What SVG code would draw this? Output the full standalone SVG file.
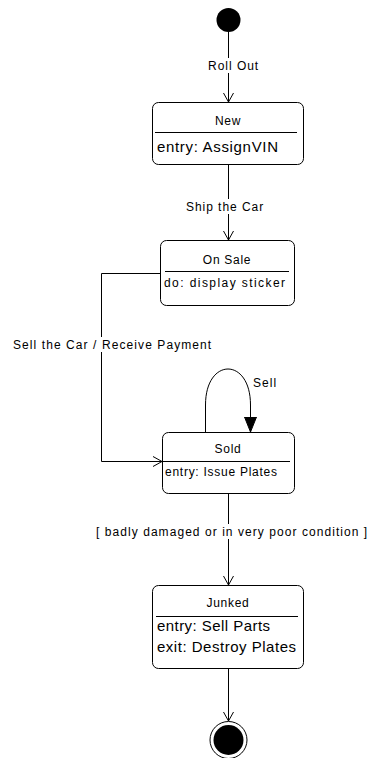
<svg xmlns="http://www.w3.org/2000/svg" width="372" height="758" viewBox="0 0 372 758">
  <style>
    .state { fill: #ffffff; stroke: #000000; stroke-width: 1; }
    .div { stroke: #000000; stroke-width: 1; }
    .edge { fill: none; stroke: #000000; stroke-width: 1; }
    .bg { fill: #ffffff; }
    .lbl { font-family: "Liberation Sans", Arial, sans-serif; font-size: 12px; fill: #000000; letter-spacing: 0.8px; }
    .name { font-family: "Liberation Sans", Arial, sans-serif; font-size: 12px; fill: #000000; text-anchor: middle; letter-spacing: 0.7px; }
    .act { font-family: "Liberation Sans", Arial, sans-serif; font-size: 15px; fill: #000000; }
    .act-s { font-family: "Liberation Sans", Arial, sans-serif; font-size: 12px; fill: #000000; }
  </style>
  <defs>
    <marker id="open" markerWidth="12" markerHeight="12" refX="10" refY="6" orient="auto" markerUnits="userSpaceOnUse">
      <path d="M1,1 L10,6 L1,11" fill="none" stroke="#000" stroke-width="1"/>
    </marker>
    <marker id="filled" markerWidth="16" markerHeight="14" refX="15" refY="7" orient="auto" markerUnits="userSpaceOnUse">
      <path d="M0,1 L15,7 L0,13 Z" fill="#000" stroke="#000" stroke-width="1"/>
    </marker>
  </defs>
  <rect width="372" height="758" fill="#ffffff"/>

  <g id="connectors">
    <line class="edge" x1="228.5" y1="32" x2="228.5" y2="102" marker-end="url(#open)"/>
    <rect class="bg" x="206" y="58" width="55" height="15"/>
    <text class="lbl" x="208" y="70" textLength="51">Roll Out</text>

    <line class="edge" x1="228.5" y1="164" x2="228.5" y2="240" marker-end="url(#open)"/>
    <rect class="bg" x="184" y="199" width="82" height="15"/>
    <text class="lbl" x="186" y="211" textLength="78">Ship the Car</text>

    <polyline class="edge" points="160,273.5 101.5,273.5 101.5,461.5 162,461.5" marker-end="url(#open)"/>
    <rect class="bg" x="11" y="337" width="203" height="15"/>
    <text class="lbl" x="13" y="349" textLength="199">Sell the Car / Receive Payment</text>

    <path class="edge" d="M205.5,432 L205.5,405 C205.5,357 250.5,357 250.5,405 L250.5,432" marker-end="url(#filled)"/>
    <text class="lbl" x="253" y="387" textLength="24">Sell</text>

    <line class="edge" x1="228.5" y1="493" x2="228.5" y2="585" marker-end="url(#open)"/>
    <rect class="bg" x="94" y="524" width="277" height="15"/>
    <text class="lbl" x="96" y="536" textLength="272">[ badly damaged or in very poor condition ]</text>

    <line class="edge" x1="228.5" y1="668" x2="228.5" y2="721" marker-end="url(#open)"/>
  </g>

  <g id="initial">
    <circle cx="228.5" cy="20" r="12" fill="#000000"/>
  </g>

  <g id="state-new">
    <rect class="state" x="152.5" y="102.5" width="151" height="62" rx="6"/>
    <line class="div" x1="155" y1="132.5" x2="297" y2="132.5"/>
    <text class="name" x="228" y="125">New</text>
    <text class="act" x="157" y="152" textLength="121">entry: AssignVIN</text>
  </g>

  <g id="state-onsale">
    <rect class="state" x="160.5" y="240.5" width="134" height="65" rx="6"/>
    <line class="div" x1="165" y1="271.5" x2="289" y2="271.5"/>
    <text class="name" x="227" y="264">On Sale</text>
    <text class="act-s" x="164" y="287" textLength="121">do: display sticker</text>
  </g>

  <g id="state-sold">
    <rect class="state" x="162.5" y="432.5" width="132" height="61" rx="6"/>
    <line class="div" x1="163" y1="461.5" x2="290" y2="461.5"/>
    <text class="name" x="228" y="453">Sold</text>
    <text class="act-s" x="165" y="476" textLength="112">entry: Issue Plates</text>
  </g>

  <g id="state-junked">
    <rect class="state" x="152.5" y="585.5" width="151" height="83" rx="6"/>
    <line class="div" x1="156" y1="616.5" x2="298" y2="616.5"/>
    <text class="name" x="228" y="607">Junked</text>
    <text class="act" x="157" y="631" textLength="113">entry: Sell Parts</text>
    <text class="act" x="157" y="652" textLength="139">exit: Destroy Plates</text>
  </g>

  <g id="final">
    <circle cx="228.5" cy="740" r="18.5" fill="#ffffff" stroke="#000000" stroke-width="1"/>
    <circle cx="228.5" cy="740" r="15" fill="#000000"/>
  </g>
</svg>
